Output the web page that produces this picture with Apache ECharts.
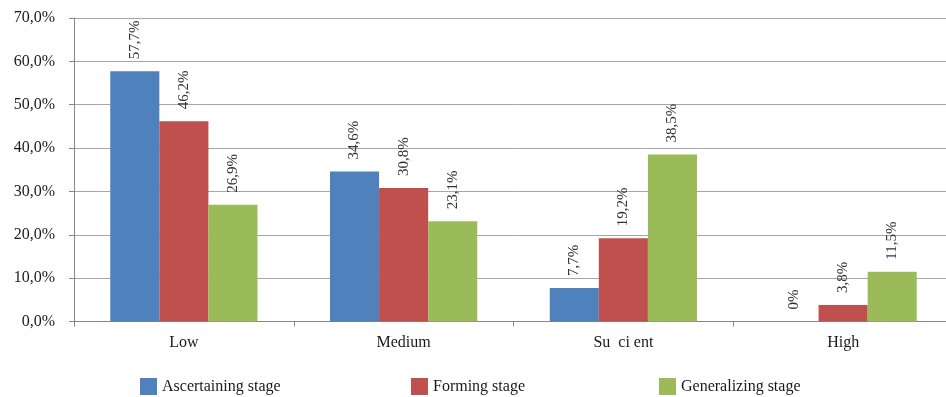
<!DOCTYPE html>
<html><head><meta charset="utf-8">
<script src="https://cdn.jsdelivr.net/npm/echarts@6/dist/echarts.min.js"></script>
<style>html,body{margin:0;padding:0;background:#fff;overflow:hidden}#c{width:953px;height:397px}</style>
</head><body><div id="c"></div>
<script>
const categories = ['Low', 'Medium', 'Su  ci ent', 'High'];
const ascertaining = [57.7, 34.6, 7.7, 0];
const forming = [46.2, 30.8, 19.2, 3.8];
const generalizing = [26.9, 23.1, 38.5, 11.5];
const seriesNames = ['Ascertaining stage', 'Forming stage', 'Generalizing stage'];
const colors = ['#4F81BD', '#C0504D', '#9BBB59'];

const FONT = 'Liberation Serif';
function fmtTick(v){ return v.toFixed(1).replace('.', ',') + '%'; }
function fmtLabel(p){ return p.value === 0 ? '0%' : p.value.toFixed(1).replace('.', ',') + '%'; }

const chart = echarts.init(document.getElementById('c'), null, {renderer:'canvas'});
const mk = (name, data, color) => ({
  name, type:'bar', data, barGap:'0%', barCategoryGap:'33%',
  itemStyle:{color},
  label:{show:true, position:'top', rotate:90, align:'left', verticalAlign:'middle', distance:12,
    formatter: fmtLabel, color:'#333', fontFamily:FONT, fontSize:15}
});
const legendBase = {orient:'horizontal', itemWidth:17, itemHeight:17, icon:'rect', top:378, itemGap:6,
  textStyle:{fontFamily:FONT, fontSize:16, color:'#1a1a1a'}, selectedMode:false, padding:0};
chart.setOption({
  animation:false,
  color: colors,
  grid:{left:74, top:18, right:0, bottom:75.5, containLabel:false},
  legend:[
    Object.assign({}, legendBase, {left:140, data:[seriesNames[0]]}),
    Object.assign({}, legendBase, {left:411, data:[seriesNames[1]]}),
    Object.assign({}, legendBase, {left:659, data:[seriesNames[2]]})
  ],
  xAxis:{type:'category', data:categories, boundaryGap:true,
    axisLine:{lineStyle:{color:'#868686', width:1}},
    axisTick:{show:true, length:5, alignWithLabel:false, interval:0, lineStyle:{color:'#868686'}},
    axisLabel:{margin:13, fontFamily:FONT, fontSize:16, color:'#1a1a1a', interval:0}},
  yAxis:{type:'value', min:0, max:70, interval:10,
    axisLine:{show:true, lineStyle:{color:'#868686', width:1}},
    axisTick:{show:true, length:5, lineStyle:{color:'#868686'}},
    splitLine:{lineStyle:{color:'#a6a6a6', width:1}},
    axisLabel:{formatter: fmtTick, margin:19, fontFamily:FONT, fontSize:16, color:'#1a1a1a'}},
  series:[
    mk(seriesNames[0], ascertaining, colors[0]),
    mk(seriesNames[1], forming, colors[1]),
    mk(seriesNames[2], generalizing, colors[2])
  ]
});
</script></body></html>
